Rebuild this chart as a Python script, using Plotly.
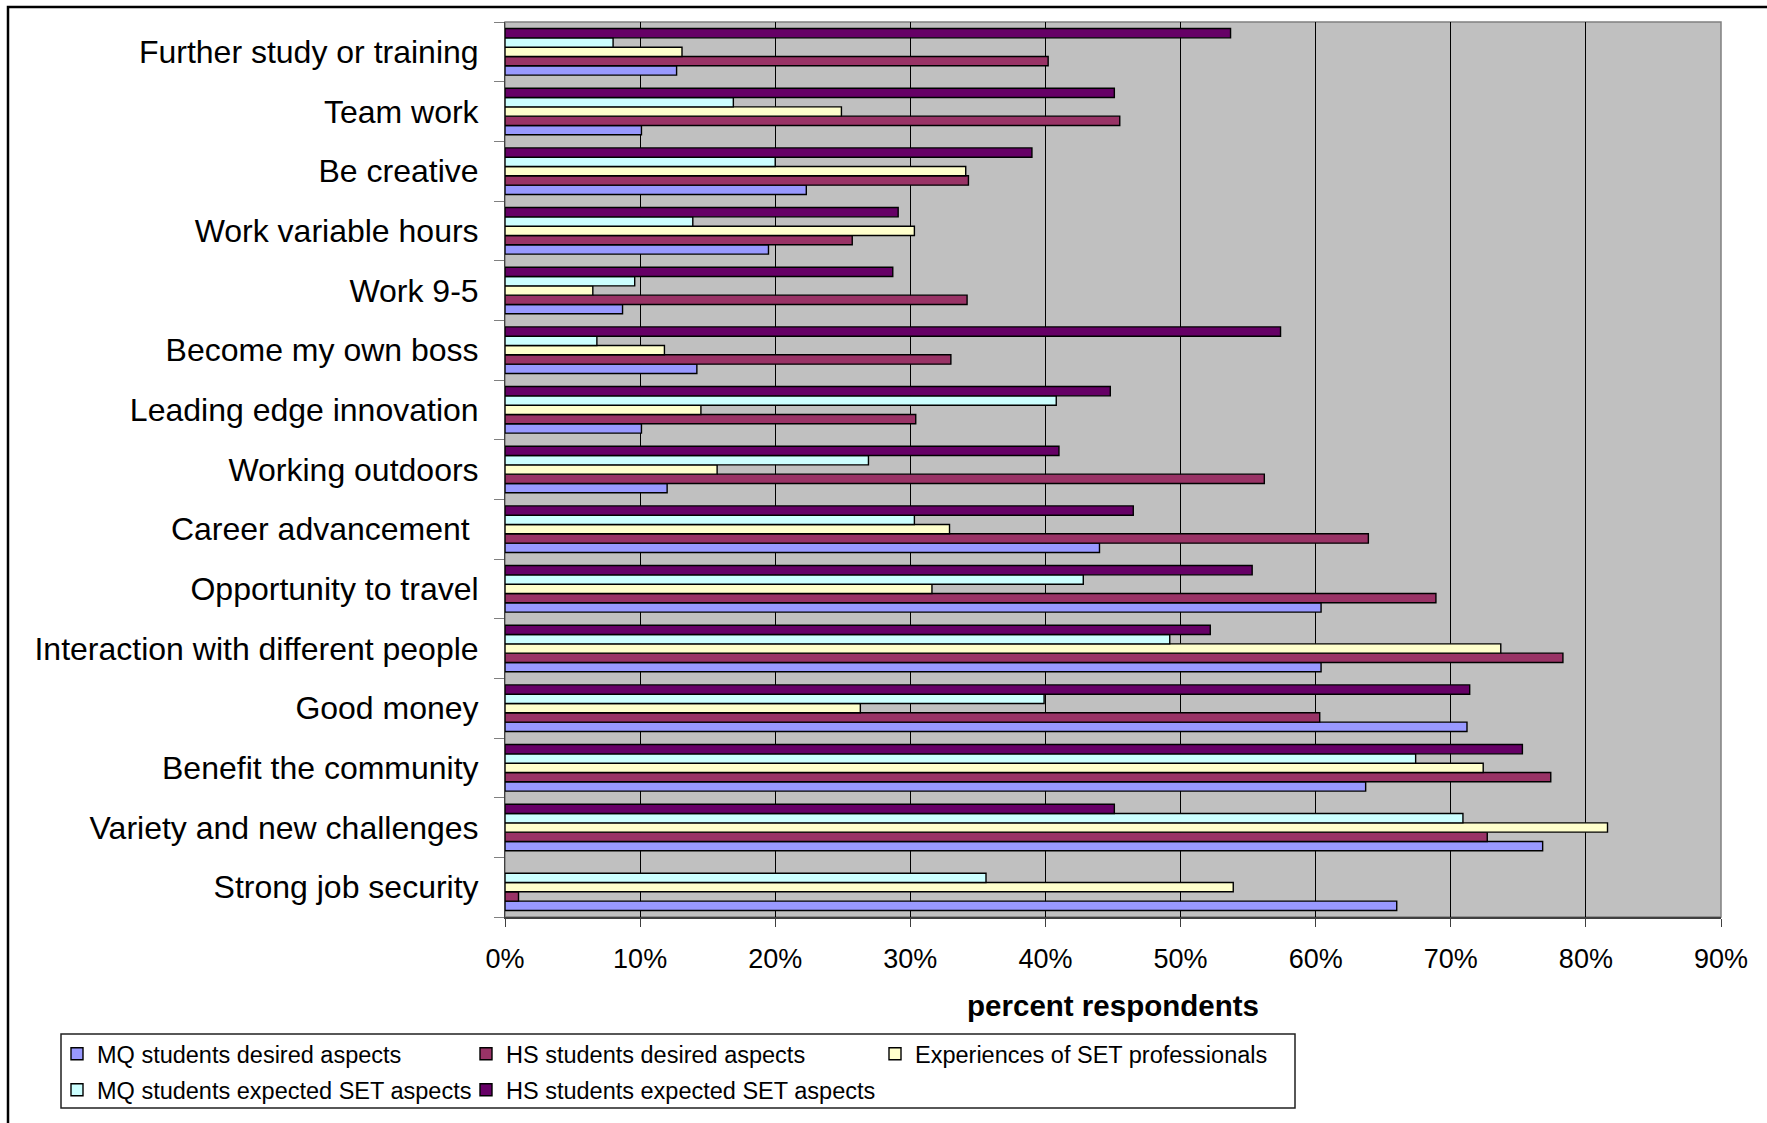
import plotly.graph_objects as go

# Job aspects, listed top to bottom as they appear on the chart
categories = [
    "Further study or training",
    "Team work",
    "Be creative",
    "Work variable hours",
    "Work 9-5",
    "Become my own boss",
    "Leading edge innovation",
    "Working outdoors",
    "Career advancement\u00a0",
    "Opportunity to travel",
    "Interaction with different people",
    "Good money",
    "Benefit the community",
    "Variety and new challenges",
    "Strong job security",
]

# Percent of respondents for each series (same order as categories)
mq_desired = [12.7, 10.1, 22.3, 19.5, 8.7, 14.2, 10.1, 12.0, 44.0, 60.4, 60.4, 71.2, 63.7, 76.8, 66.0]
hs_desired = [40.2, 45.5, 34.3, 25.7, 34.2, 33.0, 30.4, 56.2, 63.9, 68.9, 78.3, 60.3, 77.4, 72.7, 1.0]
set_experiences = [13.1, 24.9, 34.1, 30.3, 6.5, 11.8, 14.5, 15.7, 32.9, 31.6, 73.7, 26.3, 72.4, 81.6, 53.9]
mq_expected = [8.0, 16.9, 20.0, 13.9, 9.6, 6.8, 40.8, 26.9, 30.3, 42.8, 49.2, 39.9, 67.4, 70.9, 35.6]
hs_expected = [53.7, 45.1, 39.0, 29.1, 28.7, 57.4, 44.8, 41.0, 46.5, 55.3, 52.2, 71.4, 75.3, 45.1, None]

series_names = [
    "MQ students desired aspects",
    "HS students desired aspects",
    "Experiences of SET professionals",
    "MQ students expected SET aspects",
    "HS students expected SET aspects",
]
series_values = [mq_desired, hs_desired, set_experiences, mq_expected, hs_expected]
series_colors = ["#9999FF", "#993366", "#FFFFCC", "#CCFFFF", "#660066"]
series_legend = ["legend", "legend", "legend", "legend2", "legend2"]

x_ticks = list(range(0, 91, 10))

# Canvas and plot-area geometry (pixels)
W, H = 1767, 1123
PL, PR, PT, PB = 505, 1721, 22, 917
PW, PH = PR - PL, PB - PT


def px_x(p):
    return (p - PL) / PW


def px_y(p):
    return (PB - p) / PH


FONT = "Liberation Sans, Arial, sans-serif"

fig = go.Figure()
for name, vals, col, lg in zip(series_names, series_values, series_colors, series_legend):
    fig.add_trace(go.Bar(
        y=categories,
        x=vals,
        name=name,
        orientation="h",
        marker=dict(color=col, line=dict(color="#000000", width=1.4)),
        legend=lg,
    ))

legend_common = dict(
    orientation="h",
    xanchor="left",
    yanchor="middle",
    bgcolor="rgba(0,0,0,0)",
    borderwidth=0,
    font=dict(family=FONT, size=23.5, color="#000000"),
    entrywidth=364,
    itemwidth=30,
    traceorder="normal",
)

fig.update_layout(
    width=W,
    height=H,
    margin=dict(l=PL, r=W - PR, t=PT, b=H - PB, autoexpand=False),
    paper_bgcolor="#FFFFFF",
    plot_bgcolor="#C0C0C0",
    barmode="group",
    bargap=0.22,
    bargroupgap=0,
    font=dict(family=FONT, color="#000000"),
    showlegend=True,
    legend=dict(x=px_x(57), y=px_y(1054), **legend_common),
    legend2=dict(x=px_x(57), y=px_y(1090), **legend_common),
    xaxis=dict(
        range=[0, 90],
        tickmode="array",
        tickvals=x_ticks,
        ticktext=[f"{v}%" for v in x_ticks],
        showgrid=True,
        gridcolor="#000000",
        gridwidth=1,
        zeroline=False,
        showline=True,
        linecolor="#404040",
        linewidth=2,
        ticks="outside",
        ticklen=8,
        tickcolor="#404040",
        tickfont=dict(family=FONT, size=27, color="#000000"),
        ticklabelstandoff=9,
        title=dict(text="<b>percent respondents</b>",
                   font=dict(family=FONT, size=29.5, color="#000000"),
                   standoff=22),
        automargin=False,
    ),
    yaxis=dict(
        type="category",
        categoryorder="array",
        categoryarray=list(reversed(categories)),
        tickson="boundaries",
        showgrid=False,
        zeroline=False,
        showline=True,
        linecolor="#404040",
        linewidth=1,
        ticks="outside",
        ticklen=10,
        tickcolor="#808080",
        tickfont=dict(family=FONT, size=32, color="#000000"),
        ticklabelstandoff=19,
        automargin=False,
    ),
    shapes=[
        # plot area frame (top and right edges show in grey)
        dict(type="rect", xref="paper", yref="paper", x0=0, x1=1, y0=0, y1=1,
             line=dict(color="#808080", width=1.5), layer="below"),
        # legend box
        dict(type="rect", xref="paper", yref="paper",
             x0=px_x(61), x1=px_x(1295), y0=px_y(1034), y1=px_y(1108),
             line=dict(color="#202020", width=1.5)),
        # outer chart border
        dict(type="rect", xref="paper", yref="paper",
             x0=px_x(8), x1=px_x(W + 20), y0=px_y(H + 20), y1=px_y(7),
             line=dict(color="#000000", width=2.5)),
    ],
)

fig.write_html("out.html")
